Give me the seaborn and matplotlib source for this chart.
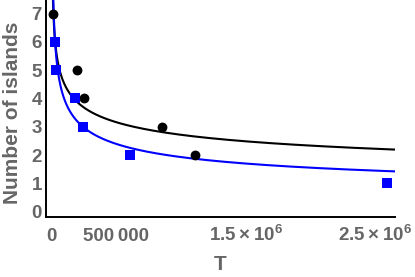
import numpy as np
import pandas as pd
import matplotlib
matplotlib.use("Agg")
import matplotlib.pyplot as plt
import seaborn as sns

# ---- data ----
black_T = [7700, 193000, 252000, 855000, 1108000]
black_n = [7, 5, 4, 3, 2]
blue_T = [28000, 33000, 183000, 245000, 606000, 2596000]
blue_n = [6, 5, 4, 3, 2, 1]
blue_fit_count = 5  # the far-right square is left out of the blue fit

x_ticks = [0, 500000, 1500000, 2500000]
x_tick_labels = ["0", "500\u2009000", r"$1.5\times10^{6}$", r"$2.5\times10^{6}$"]
y_ticks = [0, 1, 2, 3, 4, 5, 6, 7]
x_label = "T"
y_label = "Number of islands"

sns.set_theme(style="white")
plt.rcParams["font.family"] = ["Liberation Sans", "DejaVu Sans"]
plt.rcParams["mathtext.fontset"] = "custom"
plt.rcParams["mathtext.rm"] = "Liberation Sans:bold"
plt.rcParams["mathtext.bf"] = "Liberation Sans:bold"
plt.rcParams["mathtext.default"] = "bf"

GRAY = "#666666"
BLUE = "#0000ff"

fig = plt.figure(figsize=(4.15, 2.77), dpi=100)
W, H = 415, 277
ax = fig.add_axes([46 / W, 1 - 216.7 / H, (395 - 46) / W, 216.7 / H])

xmin, xmax = -44000, 2.655e6
ymin, ymax = -0.177, 7.48


def power_fit(T, n):
    b, a = np.polyfit(np.log(T), np.log(n), 1)
    Tg = np.geomspace(2000, xmax, 400)
    return pd.DataFrame({"T": Tg, "n": np.exp(a) * Tg ** b})


fit_black = power_fit(black_T, black_n)
fit_blue = power_fit(blue_T[:blue_fit_count], blue_n[:blue_fit_count])

sns.lineplot(data=fit_black, x="T", y="n", ax=ax, color="black", lw=1.5, sort=False)
sns.lineplot(data=fit_blue, x="T", y="n", ax=ax, color=BLUE, lw=1.5, sort=False)

df_black = pd.DataFrame({"T": black_T, "n": black_n})
df_blue = pd.DataFrame({"T": blue_T, "n": blue_n})
sns.scatterplot(data=df_black, x="T", y="n", ax=ax, color="black", marker="o",
                s=50, linewidth=0, zorder=3)
sns.scatterplot(data=df_blue, x="T", y="n", ax=ax, color=BLUE, marker="s",
                s=42, linewidth=0, zorder=4)

ax.set_xlim(xmin, xmax)
ax.set_ylim(ymin, ymax)
ax.set_xticks(x_ticks)
ax.set_xticklabels(x_tick_labels)
ax.set_yticks(y_ticks)
ax.set_yticklabels([str(v) for v in y_ticks])

for side in ["top", "right"]:
    ax.spines[side].set_visible(False)
for side in ["left", "bottom"]:
    ax.spines[side].set_color("black")
    ax.spines[side].set_linewidth(1.4)

ax.tick_params(axis="both", direction="in", length=2.5, width=0.8, color="#888888",
               labelcolor=GRAY, labelsize=13.5)
ax.tick_params(axis="x", pad=17.5)
ax.tick_params(axis="y", pad=3)
for lab in ax.get_xticklabels():
    lab.set_fontweight("bold")
    lab.set_verticalalignment("baseline")
for lab in ax.get_yticklabels():
    lab.set_fontweight("bold")

ax.set_xlabel("")
ax.set_ylabel("")
fig.text(220 / W, 1 - 270 / H, x_label, ha="center", va="baseline",
         fontsize=15, fontweight="bold", color=GRAY)
fig.text(18.5 / W, 1 - 113 / H, y_label, ha="center", va="baseline", rotation=90,
         rotation_mode="anchor", fontsize=15, fontweight="bold", color=GRAY)

fig.savefig("out.png", dpi=100)
